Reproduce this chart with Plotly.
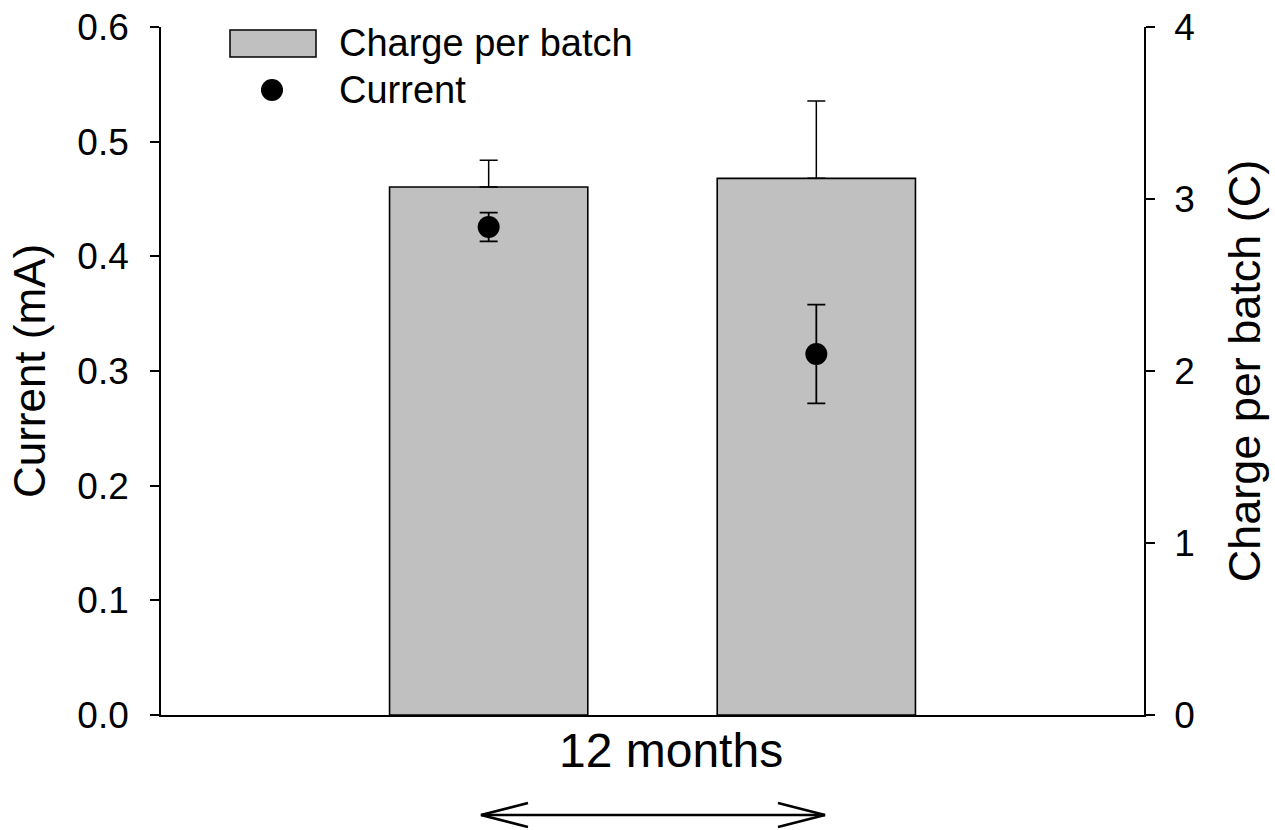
import plotly.graph_objects as go

# ---- data ----
positions = [0, 1]                 # two batches within the 12-month period
charge = [3.07, 3.12]              # Charge per batch (C)
charge_err = [0.155, 0.45]
current = [0.4256, 0.3148]         # Current (mA)
current_err = [0.0125, 0.043]

left_ticks = [0.0, 0.1, 0.2, 0.3, 0.4, 0.5, 0.6]
left_ticklabels = ["0.0", "0.1", "0.2", "0.3", "0.4", "0.5", "0.6"]
right_ticks = [0, 1, 2, 3, 4]

FONT = "Liberation Sans, Arial, sans-serif"
W, H = 1275, 830
# plot area in pixels
L, R, T, B = 161, 1144, 27, 715


def px(xp):
    return (xp - L) / (R - L)


def py(yp):
    return (B - yp) / (B - T)


fig = go.Figure()

fig.add_trace(go.Bar(
    x=positions, y=charge, width=0.605, yaxis="y",
    marker=dict(color="#c0c0c0", line=dict(color="black", width=1.6)),
    error_y=dict(type="data", array=charge_err, arrayminus=[0, 0], symmetric=False,
                 color="black", thickness=1.5, width=9),
    name="Charge per batch", showlegend=False,
))

fig.add_trace(go.Scatter(
    x=positions, y=current, mode="markers", yaxis="y2",
    marker=dict(color="black", size=22),
    error_y=dict(type="data", array=current_err, color="black", thickness=1.8, width=9),
    name="Current", showlegend=False,
))

shapes = []
# manual legend
shapes.append(dict(type="rect", xref="paper", yref="paper",
                   x0=px(230), x1=px(316), y0=py(57), y1=py(30),
                   fillcolor="#c0c0c0", line=dict(color="black", width=1.5)))
shapes.append(dict(type="circle", xref="paper", yref="paper",
                   x0=px(261), x1=px(283), y0=py(101), y1=py(79),
                   fillcolor="black", line=dict(color="black", width=0)))
# double-headed arrow under the "12 months" label
AY = 815
shapes.append(dict(type="line", xref="paper", yref="paper",
                   x0=px(481), x1=px(825), y0=py(AY), y1=py(AY),
                   line=dict(color="black", width=2.5)))
shapes.append(dict(type="path", xref="paper", yref="paper",
                   path=f"M {px(528)},{py(AY - 12)} L {px(481)},{py(AY)} L {px(528)},{py(AY + 12)}",
                   line=dict(color="black", width=2.5)))
shapes.append(dict(type="path", xref="paper", yref="paper",
                   path=f"M {px(778)},{py(AY - 12)} L {px(825)},{py(AY)} L {px(778)},{py(AY + 12)}",
                   line=dict(color="black", width=2.5)))

annotations = [
    dict(text="Charge per batch", x=px(337), y=py(43), xref="paper", yref="paper",
         xanchor="left", yanchor="middle", showarrow=False,
         font=dict(family=FONT, size=38, color="black")),
    dict(text="Current", x=px(337), y=py(90), xref="paper", yref="paper",
         xanchor="left", yanchor="middle", showarrow=False,
         font=dict(family=FONT, size=38, color="black")),
    dict(text="12 months", x=px(671), y=py(750), xref="paper", yref="paper",
         xanchor="center", yanchor="middle", showarrow=False,
         font=dict(family=FONT, size=48, color="black")),
]

fig.update_layout(
    width=W, height=H,
    margin=dict(l=L, r=W - R, t=T, b=H - B, autoexpand=False),
    paper_bgcolor="white", plot_bgcolor="white",
    font=dict(family=FONT, color="black"),
    showlegend=False,
    xaxis=dict(range=[-1, 2], showline=True, linecolor="black", linewidth=1.6,
               showticklabels=False, ticks="", showgrid=False, zeroline=False),
    yaxis=dict(range=[0, 4], side="right", tickvals=right_ticks,
               ticks="outside", ticklen=9, tickwidth=1.5, tickcolor="black",
               showline=True, linecolor="black", linewidth=1.6,
               showgrid=False, zeroline=False, ticklabelstandoff=12,
               ticklabeloverflow="allow",
               tickfont=dict(family=FONT, size=37, color="black"),
               title=dict(text="Charge per batch (C)", standoff=35,
                          font=dict(family=FONT, size=45, color="black"))),
    yaxis2=dict(range=[0, 0.6], side="left", overlaying="y", anchor="x",
                tickvals=left_ticks, ticktext=left_ticklabels,
                ticks="outside", ticklen=9, tickwidth=1.5, tickcolor="black",
                showline=True, linecolor="black", linewidth=1.6,
                showgrid=False, zeroline=False, ticklabelstandoff=14,
                ticklabeloverflow="allow",
                tickfont=dict(family=FONT, size=37, color="black"),
                title=dict(text="Current (mA)", standoff=18,
                           font=dict(family=FONT, size=44, color="black"))),
    shapes=shapes,
    annotations=annotations,
)

# remove the default page margin so the figure fills the 1275x830 window exactly
fig.write_html("out.html", config={"displayModeBar": False},
               post_script="document.body.style.margin='0';")
